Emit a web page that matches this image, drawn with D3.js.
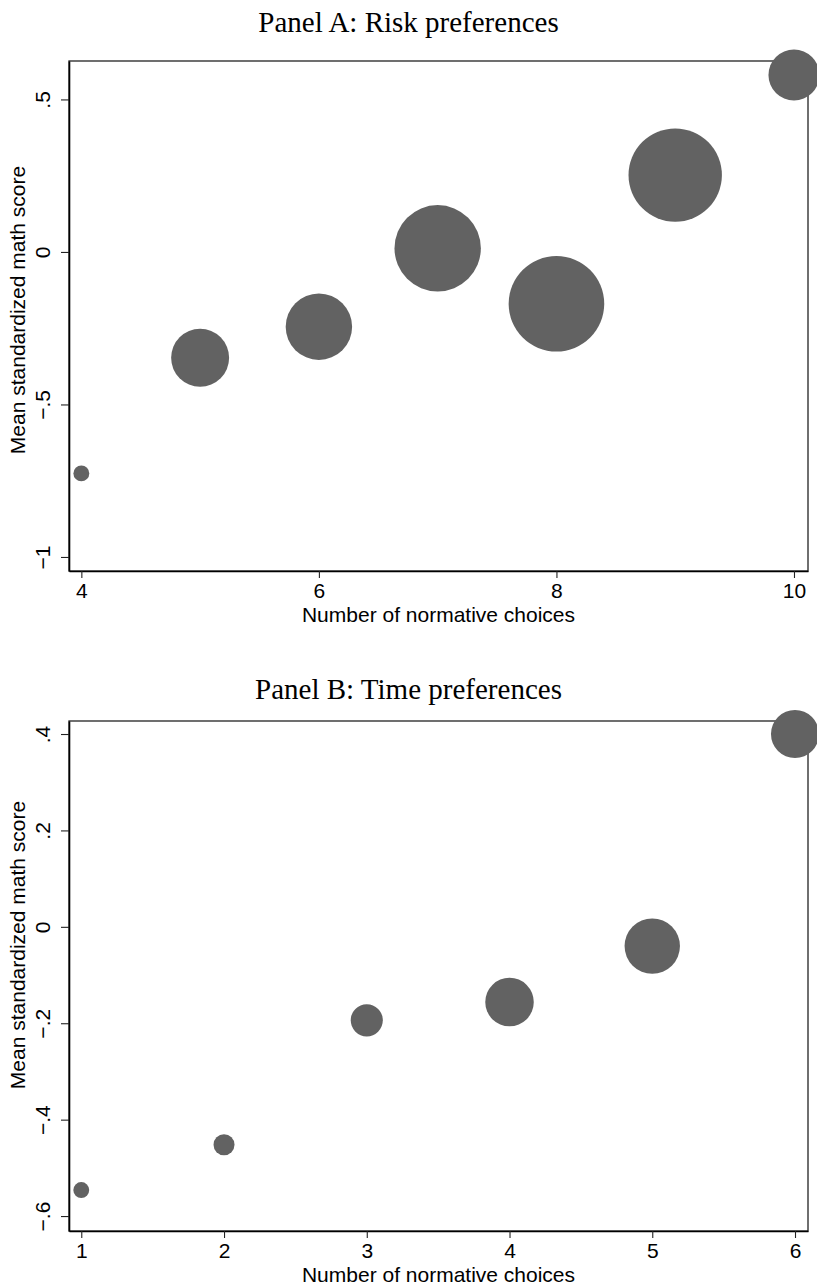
<!DOCTYPE html>
<html>
<head>
<meta charset="utf-8">
<script src="https://cdn.jsdelivr.net/npm/d3@7"></script>
<style>
  body { margin: 0; background: #fff; }
  svg { display: block; }
  .tick line { stroke: #222; stroke-width: 1.1px; }
  .tick text { font-family: "Liberation Sans", Arial, sans-serif; font-size: 21px; fill: #000; }
  .axis-title { font-family: "Liberation Sans", Arial, sans-serif; font-size: 21px; fill: #000; }
  .panel-title { font-family: "Liberation Serif", "Times New Roman", serif; font-size: 29px; fill: #000; }
</style>
</head>
<body>
<svg id="chart" width="817" height="1288"></svg>
<script>
// Panel A: risk preferences
const riskChoices = [4, 5, 6, 7, 8, 9, 10];
const riskScore   = [-0.726, -0.347, -0.245, 0.012, -0.170, 0.252, 0.580];
const riskCount   = [12, 160, 210, 355, 435, 415, 124];
const riskXTicks  = [4, 6, 8, 10];
const riskYTicks  = [-1, -0.5, 0, 0.5];
const riskYLabels = ["\u22121", "\u2212.5", "0", ".5"];

// Panel B: time preferences
const timeChoices = [1, 2, 3, 4, 5, 6];
const timeScore   = [-0.546, -0.452, -0.194, -0.156, -0.040, 0.400];
const timeCount   = [12, 21, 49, 112, 146, 110];
const timeXTicks  = [1, 2, 3, 4, 5, 6];
const timeYTicks  = [-0.6, -0.4, -0.2, 0, 0.2, 0.4];
const timeYLabels = ["\u2212.6", "\u2212.4", "\u2212.2", "0", ".2", ".4"];

const svg = d3.select("#chart");
const left = 69, right = 808;

// bubble area proportional to count, same scale in both panels
const size = d3.scaleSqrt().domain([0, 435]).range([0, 47.8]);

function drawPanel(cfg) {
  let x = d3.scaleLinear().domain(cfg.xDomain).range([left, right]);
  let y = d3.scaleLinear().domain(cfg.yDomain).range([cfg.bottom, cfg.top]);
  let g = svg.append("g");

  g.append("text")
    .attr("class", "panel-title")
    .attr("x", 408.5).attr("y", cfg.titleY)
    .attr("text-anchor", "middle")
    .text(cfg.title);

  // frame
  g.append("rect")
    .attr("x", left).attr("y", cfg.top)
    .attr("width", right - left).attr("height", cfg.bottom - cfg.top)
    .attr("fill", "none").attr("stroke", "#222").attr("stroke-width", 1.3);

  // y axis, labels rotated
  let labels = cfg.yLabels;
  let yAxis = g.append("g")
    .attr("transform", `translate(${left},0)`)
    .call(d3.axisLeft(y).tickValues(cfg.yTicks).tickSize(8).tickSizeOuter(0)
      .tickFormat((d, i) => labels[i]));
  yAxis.select(".domain").attr("stroke", "#000").attr("stroke-width", 1.6);
  yAxis.selectAll(".tick text")
    .attr("transform", "rotate(-90)")
    .attr("x", 0).attr("y", -19).attr("dy", 0)
    .attr("text-anchor", "middle");

  // x axis
  let xAxis = g.append("g")
    .attr("transform", `translate(0,${cfg.bottom})`)
    .call(d3.axisBottom(x).tickValues(cfg.xTicks).tickSize(7).tickSizeOuter(0)
      .tickFormat(d3.format("d")));
  xAxis.select(".domain").attr("stroke", "#000").attr("stroke-width", 1.6);
  xAxis.selectAll(".tick text").attr("y", 12).attr("dy", "0.71em");

  g.append("text")
    .attr("class", "axis-title")
    .attr("transform", `translate(25,${cfg.yTitleMid}) rotate(-90)`)
    .attr("text-anchor", "middle")
    .text("Mean standardized math score");

  g.append("text")
    .attr("class", "axis-title")
    .attr("x", (left + right) / 2).attr("y", cfg.bottom + 51)
    .attr("text-anchor", "middle")
    .text("Number of normative choices");

  g.selectAll("circle.bubble")
    .data(cfg.xs.map((v, i) => ({x: v, y: cfg.ys[i], n: cfg.ns[i]})))
    .enter().append("circle")
    .attr("class", "bubble")
    .attr("cx", d => x(d.x))
    .attr("cy", d => y(d.y))
    .attr("r", d => size(d.n))
    .attr("fill", "#626262");
}

drawPanel({
  title: "Panel A: Risk preferences", titleY: 32,
  top: 61, bottom: 571, yTitleMid: 310,
  xDomain: [3.896, 10.118], yDomain: [-1.046, 0.626],
  xTicks: riskXTicks, yTicks: riskYTicks, yLabels: riskYLabels,
  xs: riskChoices, ys: riskScore, ns: riskCount
});

drawPanel({
  title: "Panel B: Time preferences", titleY: 699,
  top: 721, bottom: 1231, yTitleMid: 945,
  xDomain: [0.914, 6.091], yDomain: [-0.631, 0.427],
  xTicks: timeXTicks, yTicks: timeYTicks, yLabels: timeYLabels,
  xs: timeChoices, ys: timeScore, ns: timeCount
});
</script>
</body>
</html>
